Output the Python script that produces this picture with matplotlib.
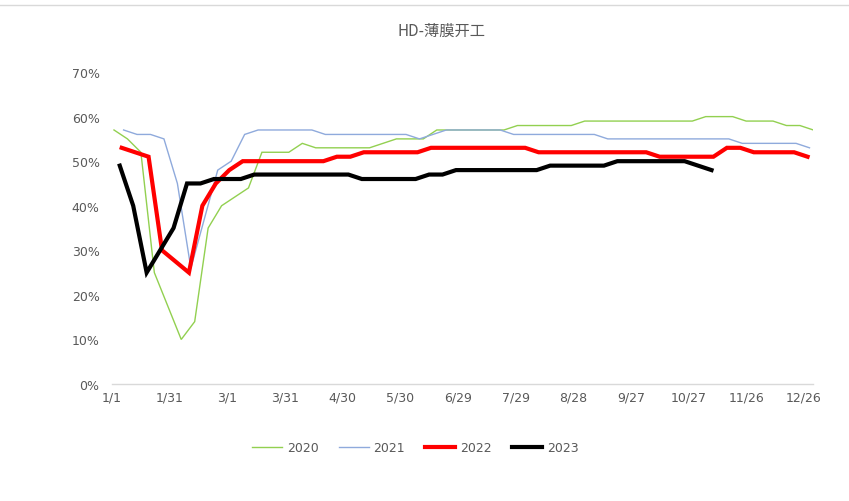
import numpy as np
import pandas as pd
import matplotlib
matplotlib.use("Agg")
import matplotlib.pyplot as plt
from matplotlib.lines import Line2D
from matplotlib.ticker import PercentFormatter

plt.rcParams["font.family"] = ["DejaVu Sans", "Noto Sans CJK SC"]

# weekly operating rate (%), one list per year, first report date of the year
start_2020 = "2020-01-02"
v2020 = [57, 55, 52, 25, 17.5, 10, 14, 35, 40, 42, 44, 52, 52, 52, 54, 53, 53, 53, 53, 53,
         54, 55, 55, 55, 57, 57, 57, 57, 57, 57, 58, 58, 58, 58, 58, 59, 59, 59, 59, 59,
         59, 59, 59, 59, 60, 60, 60, 59, 59, 59, 58, 58, 57]

start_2021 = "2021-01-07"
v2021 = [57, 56, 56, 55, 45, 26, 37, 48, 50, 56, 57, 57, 57, 57, 57, 56, 56, 56, 56, 56,
         56, 56, 55, 56, 57, 57, 57, 57, 57, 56, 56, 56, 56, 56, 56, 56, 55, 55, 55, 55,
         55, 55, 55, 55, 55, 55, 54, 54, 54, 54, 54, 53]

start_2022 = "2022-01-06"
v2022 = [53, 52, 51, 30, 27.5, 25, 40, 45, 48, 50, 50, 50, 50, 50, 50, 50, 51, 51, 52, 52,
         52, 52, 52, 53, 53, 53, 53, 53, 53, 53, 53, 52, 52, 52, 52, 52, 52, 52, 52, 52,
         51, 51, 51, 51, 51, 53, 53, 52, 52, 52, 52, 51]

start_2023 = "2023-01-05"
v2023 = [49, 40, 25, 30, 35, 45, 45, 46, 46, 46, 47, 47, 47, 47, 47, 47, 47, 47, 46, 46,
         46, 46, 46, 47, 47, 48, 48, 48, 48, 48, 48, 48, 49, 49, 49, 49, 49, 50, 50, 50,
         50, 50, 50, 49, 48]

series = [
    ("2020", start_2020, v2020, "#92d050", 1.0),
    ("2021", start_2021, v2021, "#8faadc", 1.0),
    ("2022", start_2022, v2022, "#ff0000", 3.0),
    ("2023", start_2023, v2023, "#000000", 3.0),
]

# x-axis: day of year on a 2020 calendar, labels every 30 days
tick_days = np.arange(0, 361, 30)
tick_dates = pd.Timestamp("2020-01-01") + pd.to_timedelta(tick_days, unit="D")
tick_labels = [f"{d.month}/{d.day}" for d in tick_dates]

fig = plt.figure(figsize=(8.49, 5.02), dpi=100)
ax = fig.add_axes([0.132, 0.233, 0.826, 0.6215])

for name, start, vals, color, lw in series:
    dates = pd.date_range(start, periods=len(vals), freq="7D")
    days = (dates - pd.Timestamp(dates[0].year, 1, 1)).days
    ax.plot(days, vals, color=color, lw=lw, label=name, solid_joinstyle="miter")

ax.set_xlim(0, 365)
ax.set_ylim(0, 70)
ax.set_yticks(np.arange(0, 71, 10))
ax.yaxis.set_major_formatter(PercentFormatter(100, decimals=0))
ax.set_xticks(tick_days)
ax.set_xticklabels(tick_labels)
ax.tick_params(axis="both", length=0, labelsize=9, labelcolor="#595959")
ax.tick_params(axis="y", pad=9)
ax.tick_params(axis="x", pad=5)
for side in ["top", "right", "left"]:
    ax.spines[side].set_visible(False)
ax.spines["bottom"].set_color("#d9d9d9")
ax.spines["bottom"].set_linewidth(1.0)

fig.text(0.52, 0.937, "HD-薄膜开工", ha="center", va="center", fontsize=11,
         color="#595959", family=["Noto Sans CJK SC", "DejaVu Sans"])

fig.legend(loc="center", bbox_to_anchor=(0.489, 0.106), ncol=4, frameon=False,
           fontsize=9, labelcolor="#595959", handlelength=2.4, handletextpad=0.4,
           columnspacing=1.6)

fig.add_artist(Line2D([0, 1], [0.988, 0.988], color="#d9d9d9", lw=1.0))

fig.savefig("out.png", dpi=100)
